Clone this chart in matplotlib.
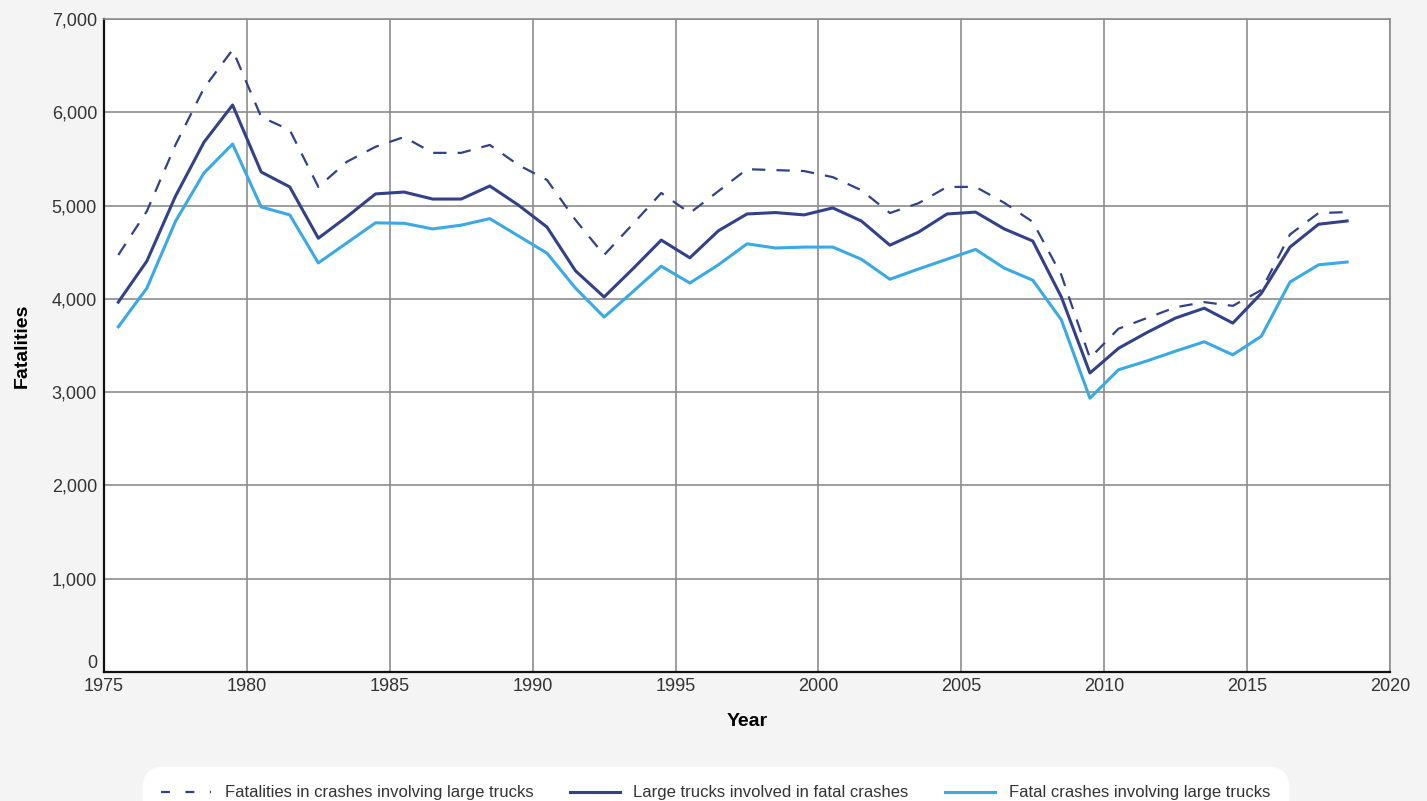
import numpy as np
import matplotlib.pyplot as plt
from matplotlib.ticker import FuncFormatter

years = np.arange(1975, 2019)

fatalities = [4470, 4940, 5650, 6260, 6670, 5950, 5810, 5200, 5470, 5630,
              5735, 5565, 5565, 5650, 5435, 5275, 4845, 4470, 4800, 5135,
              4920, 5155, 5390, 5380, 5370, 5305, 5165, 4920, 5025, 5200,
              5200, 5030, 4825, 4255, 3365, 3680, 3795, 3910, 3965, 3925,
              4095, 4690, 4920, 4930]

trucks_involved = [3965, 4405, 5100, 5680, 6078, 5360, 5200, 4650, 4880, 5125,
                   5145, 5070, 5070, 5210, 5005, 4770, 4300, 4020, 4320, 4630,
                   4440, 4730, 4910, 4925, 4900, 4975, 4835, 4575, 4715, 4910,
                   4930, 4750, 4620, 4020, 3205, 3470, 3640, 3795, 3900, 3740,
                   4060, 4555, 4800, 4835]

fatal_crashes = [3700, 4115, 4830, 5350, 5660, 4985, 4900, 4385, 4600, 4815,
                 4810, 4750, 4790, 4860, 4675, 4490, 4115, 3805, 4075, 4350,
                 4170, 4365, 4590, 4545, 4555, 4555, 4425, 4210, 4320, 4425,
                 4530, 4330, 4200, 3775, 2935, 3240, 3335, 3440, 3540, 3400,
                 3600, 4180, 4365, 4395]

labels = ['Fatalities in crashes involving large trucks',
          'Large trucks involved in fatal crashes',
          'Fatal crashes involving large trucks']

dark_blue = '#33418a'
light_blue = '#3aa9e6'
bg = '#f4f4f4'

plt.rcParams['font.family'] = ['Liberation Sans', 'DejaVu Sans']

fig = plt.figure(figsize=(14.27, 8.01), dpi=100, facecolor=bg)
ax = fig.add_axes([104 / 1427, 1 - 672 / 801, (1390 - 104) / 1427, (672 - 19) / 801])
ax.set_facecolor('white')

x = years + 0.5
ax.plot(x, fatalities, color=dark_blue, lw=1.6, ls=(0, (6, 5)), label=labels[0])
ax.plot(x, trucks_involved, color=dark_blue, lw=2.2, label=labels[1])
ax.plot(x, fatal_crashes, color=light_blue, lw=2.2, label=labels[2])

ax.set_xlim(1975, 2020)
ax.set_ylim(0, 7000)
ax.set_xticks(np.arange(1975, 2021, 5))
ax.set_yticks(np.arange(0, 7001, 1000))
ax.yaxis.set_major_formatter(FuncFormatter(lambda v, p: f'{int(v):,}'))
ax.grid(True, color='#8c8c8c', lw=1.2)
ax.set_axisbelow(True)
ax.tick_params(length=0, labelsize=13, labelcolor='#333333', pad=5)
ax.tick_params(axis='x', pad=4)
# lift the "0" label a little so it clears "1975"
ax.get_yticklabels()[0].set_va('bottom')

for side in ['top', 'right']:
    ax.spines[side].set_color('#8c8c8c')
    ax.spines[side].set_linewidth(1.2)
for side in ['left', 'bottom']:
    ax.spines[side].set_color('#111111')
    ax.spines[side].set_linewidth(1.6)

ax.set_xlabel('Year', fontsize=14, fontweight='bold', labelpad=13)
ax.set_ylabel('Fatalities', fontsize=14, fontweight='bold', labelpad=15)

leg = fig.legend(loc='upper center', bbox_to_anchor=(0.5015, 1 - 762 / 801), ncol=3,
                 fontsize=12, frameon=True, fancybox=True, handlelength=3.0,
                 columnspacing=2.2, borderpad=0.9, facecolor='white', edgecolor='white',
                 framealpha=1)
leg.get_frame().set_boxstyle('round', pad=0.2, rounding_size=1.2)
for t in leg.get_texts():
    t.set_color('#333333')
leg.get_lines()[0].set_linestyle((0, (4, 7)))

fig.savefig('out.png', dpi=100, facecolor=bg)
